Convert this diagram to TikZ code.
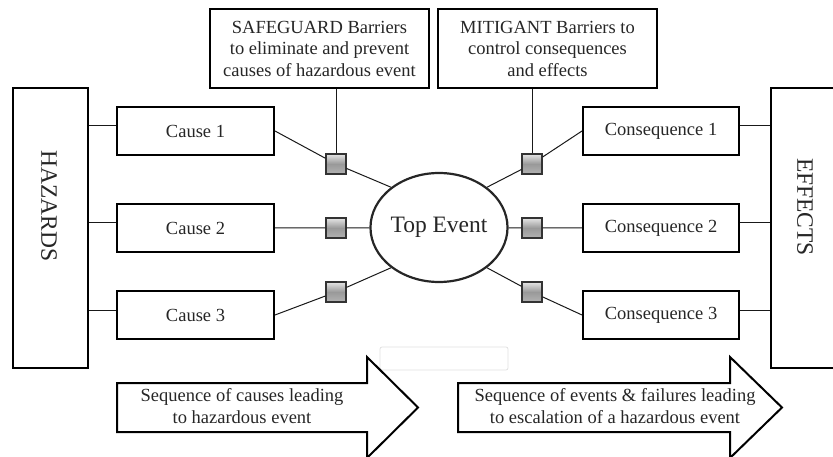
\documentclass[tikz,border=0pt]{standalone}
\usepackage{fontspec}
\setmainfont{Liberation Serif}
\usetikzlibrary{positioning,shapes.geometric}

\begin{document}
\begin{tikzpicture}[
    x=1pt,
    y=-1pt,
    boxtext/.style={
      font=\fontsize{18.5}{21.5}\selectfont,
      color=black!85,
      align=center,
    },
    box/.style={
      boxtext,
      draw=black,
      line width=2pt,
      inner sep=0,
    },
    sidebox/.style={
      box,
      minimum width=75,
      minimum height=280,
    },
    sidetext/.style={
      rotate=-90,
      inner sep=0,
      font=\fontsize{23.5}{26}\selectfont,
      color=black!85,
    },
    eventbox/.style={
      box,
      minimum width=157,
      minimum height=48,
    },
    barrierbox/.style={
      box,
      minimum width=219,
      minimum height=79,
    },
    barrier/.style={
      draw=black!80,
      line width=1.1pt,
      minimum size=20,
      inner sep=0,
      top color=black!10,
      bottom color=black!30,
      middle color=black!40,
    },
    topevent/.style={
      ellipse,
      draw=black,
      line width=2.2pt,
      minimum width=126,
      minimum height=109,
      inner sep=0,
      font=\fontsize{23.5}{26}\selectfont,
      color=black!85,
    },
    link/.style={
      line width=1pt,
      color=black!90,
    },
    flow/.style={
      draw=black,
      line width=2pt,
      line join=miter,
    },
  ]
    \useasboundingbox (0,0) rectangle (833,457);

    % hazards and effects
    \node[sidebox] (hz) at (50.5,228) {};
    \node[sidetext] (hztext) at (49,206) {HAZARDS};
    \node[sidebox] (ef) at (808,228) {};
    \node[sidetext] (eftext) at (805,207) {EFFECTS};

    % causes and consequences
    \node[eventbox] (c1) at (195.5,131) {Cause 1};
    \node[eventbox] (c2) at (195.5,228) {Cause 2};
    \node[eventbox] (c3) at (195.5,315) {Cause 3};
    \node[eventbox,minimum width=156] (q1) at (661,131) {Consequence 1};
    \node[eventbox,minimum width=156] (q2) at (661,228) {Consequence 2};
    \node[eventbox,minimum width=156] (q3) at (661,315) {Consequence 3};

    \node[topevent] (top) at (439,227.5) {Top Event};

    % barriers
    \node[barrier] (b1) at (336,164) {};
    \node[barrier] (b2) at (336,228) {};
    \node[barrier] (b3) at (336,292) {};
    \node[barrier] (b4) at (532,164) {};
    \node[barrier] (b5) at (532,228) {};
    \node[barrier] (b6) at (532,292) {};

    \node[barrierbox] (sg) at (319.5,48.5)
      {SAFEGUARD Barriers\\to eliminate and prevent\\causes of hazardous event};
    \node[barrierbox] (mt) at (547.5,48.5)
      {MITIGANT Barriers to\\control consequences\\and effects};

    % links
    \foreach \c in {c1,c2,c3}{
      \draw[link] ([yshift=5pt]\c.west) -- ([yshift=5pt]\c.west -| hz.east);
    }
    \foreach \q in {q1,q2,q3}{
      \draw[link] ([yshift=5pt]\q.east) -- ([yshift=5pt]\q.east -| ef.west);
    }
    \draw[link] (c1.east) -- (b1) -- (top.140);
    \draw[link] (c2.east) -- (b2) -- (top);
    \draw[link] (c3.east) -- (b3) -- (top.220);
    \draw[link] (top.40) -- (b4) -- (q1.west);
    \draw[link] (top) -- (b5) -- (q2.west);
    \draw[link] (top.320) -- (b6) -- (q3.west);
    \draw[link] (b1 |- sg.south) -- (b1.north);
    \draw[link] (b4 |- mt.south) -- (b4.north);

    \node[draw=black!12,line width=.8pt,rounded corners=2pt,
      minimum width=128,minimum height=23,inner sep=0] (blank) at (444,358.5) {};

    % sequence arrows
    \draw[flow] (117,383) -- (367,383) -- (367,357) -- (418,407.5)
      -- (367,458) -- (367,432) -- (117,432) -- cycle;
    \draw[flow] (458,383) -- (730,383) -- (730,357) -- (782,407.5)
      -- (730,458) -- (730,432) -- (458,432) -- cycle;
    \node[boxtext,inner sep=0] (causeseq) at (242,406)
      {Sequence of causes leading\\to hazardous event};
    \node[boxtext,inner sep=0] (eventseq) at (615,406)
      {Sequence of events \& failures leading\\to escalation of a hazardous event};
  \end{tikzpicture}
\end{document}
